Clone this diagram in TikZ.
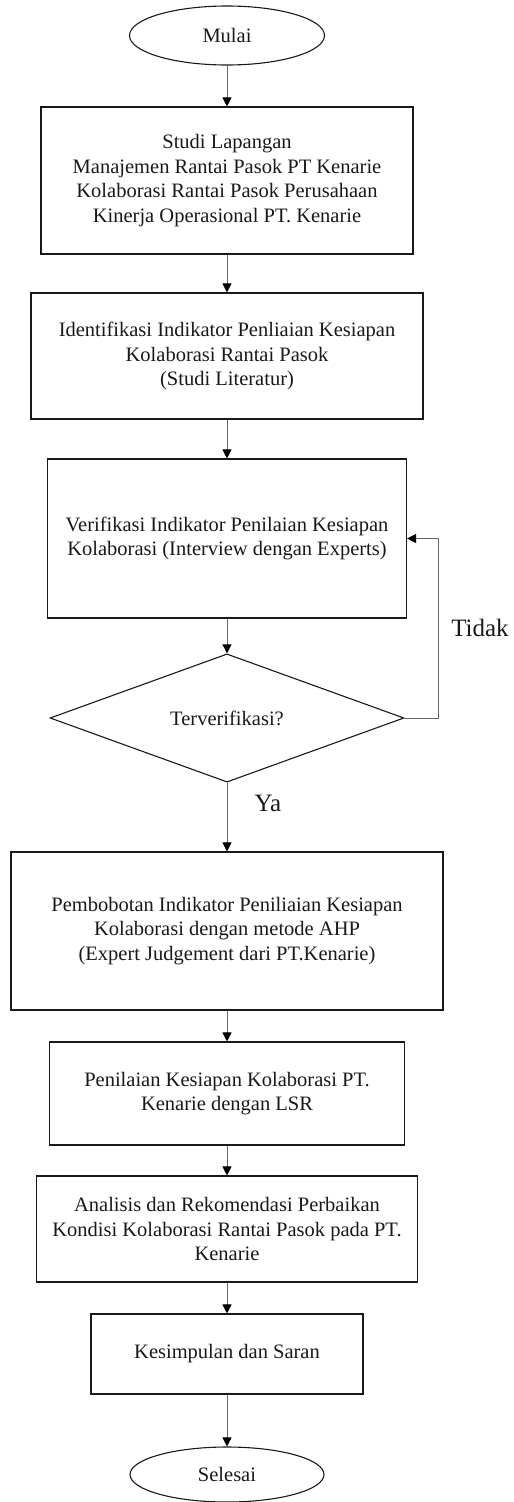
\documentclass[tikz,border=0pt]{standalone}
\usepackage{fontspec}
\setmainfont{Liberation Serif}
\usetikzlibrary{shapes.geometric,arrows.meta}
\begin{document}
\begin{tikzpicture}[x=1pt,y=-1pt,
  every node/.style={font=\fontsize{20.5}{24.6}\selectfont, inner sep=0pt, align=center, text=black!90},
  procbox/.style={draw=black!90, line width=1.1pt, rectangle},
  termin/.style={draw=black!90, line width=1.1pt, ellipse},
  decide/.style={draw=black!90, line width=1.1pt, diamond},
  conn/.style={draw=black!60, line width=1pt, -{Triangle[length=9pt,width=9pt,color=black]}},
  lbl/.style={font=\fontsize{25}{30}\selectfont}]
\useasboundingbox (0,0) rectangle (514,1502);
\node[termin, minimum width=195pt, minimum height=59pt] (mulai) at (227,35.5) {Mulai};
\node[procbox, minimum width=372pt, minimum height=147pt] (b1) at (227,180.5)
  {Studi Lapangan\\Manajemen Rantai Pasok PT Kenarie\\Kolaborasi Rantai Pasok Perusahaan\\Kinerja Operasional PT. Kenarie};
\node[procbox, minimum width=392pt, minimum height=126pt] (b2) at (227,356)
  {Identifikasi Indikator Penliaian Kesiapan\\Kolaborasi Rantai Pasok\\(Studi Literatur)};
\node[procbox, minimum width=359pt, minimum height=159pt] (b3) at (227,538.5)
  {Verifikasi Indikator Penilaian Kesiapan\\Kolaborasi (Interview dengan Experts)};
\node[decide, minimum width=354pt, minimum height=120pt] (dia) at (227,718) {Terverifikasi?};
\node[procbox, minimum width=432pt, minimum height=158pt] (b4) at (227,931)
  {Pembobotan Indikator Peniliaian Kesiapan\\Kolaborasi dengan metode AHP\\(Expert Judgement dari PT.Kenarie)};
\node[procbox, minimum width=355pt, minimum height=103pt] (b5) at (227,1093.5)
  {Penilaian Kesiapan Kolaborasi PT.\\Kenarie dengan LSR};
\node[procbox, minimum width=381pt, minimum height=106pt] (b6) at (227,1229)
  {Analisis dan Rekomendasi Perbaikan\\Kondisi Kolaborasi Rantai Pasok pada PT.\\Kenarie};
\node[procbox, minimum width=272pt, minimum height=80pt] (b7) at (227,1354)
  {Kesimpulan dan Saran};
\node[termin, minimum width=194pt, minimum height=55pt] (selesai) at (227,1474.5) {Selesai};
\node[lbl] (tidak) at (480,628) {Tidak};
\node[lbl] (ya) at (268,803) {Ya};
\draw[conn] (mulai) -- (b1);
\draw[conn] (b1) -- (b2);
\draw[conn] (b2) -- (b3);
\draw[conn] (b3) -- (dia);
\draw[conn] (dia) -- (b4);
\draw[conn] (b4) -- (b5);
\draw[conn] (b5) -- (b6);
\draw[conn] (b6) -- (b7);
\draw[conn] (b7) -- (selesai);
\draw[conn] (dia.east) -- ++(34,0) |- (b3.east);
\end{tikzpicture}
\end{document}
